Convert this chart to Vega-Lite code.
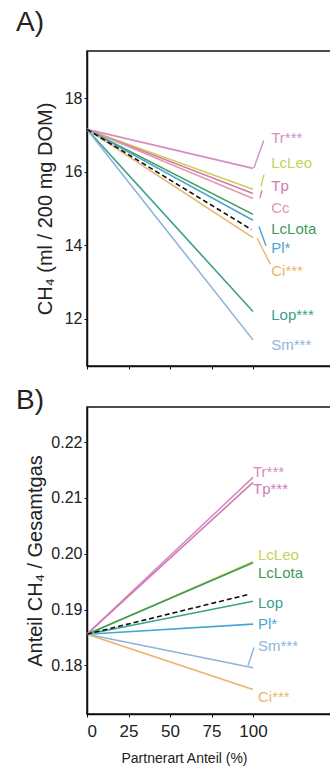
{
  "$schema": "https://vega.github.io/schema/vega-lite/v6.json",
  "padding": {"left": 15, "top": 8, "right": 0, "bottom": 0},
  "background": "white",
  "config": {
    "font": "Liberation Sans",
    "view": {"stroke": "#111", "strokeWidth": 1.5},
    "concat": {"spacing": 15},
    "axis": {"domainColor": "#111", "domainWidth": 1.5, "tickColor": "#111", "tickSize": 3, "labelFont": "Liberation Sans", "labelColor": "#222", "labelFontSize": 16, "titleFont": "Liberation Sans", "titleFontWeight": "normal", "titleColor": "#222", "grid": false},
    "title": {"font": "Liberation Sans", "fontSize": 28, "fontWeight": "normal", "color": "#222", "anchor": "start", "frame": "group"}
  },
  "datasets": {
    "linesA": [
      {"s": "Tr", "x": 0, "y": 17.15}, {"s": "Tr", "x": 100, "y": 16.09},
      {"s": "LcLeo", "x": 0, "y": 17.15}, {"s": "LcLeo", "x": 100, "y": 15.52},
      {"s": "Tp", "x": 0, "y": 17.15}, {"s": "Tp", "x": 100, "y": 15.41},
      {"s": "Cc", "x": 0, "y": 17.15}, {"s": "Cc", "x": 100, "y": 15.27},
      {"s": "LcLota", "x": 0, "y": 17.15}, {"s": "LcLota", "x": 100, "y": 14.84},
      {"s": "Pl", "x": 0, "y": 17.15}, {"s": "Pl", "x": 100, "y": 14.68},
      {"s": "Ci", "x": 0, "y": 17.15}, {"s": "Ci", "x": 100, "y": 14.21},
      {"s": "Lop", "x": 0, "y": 17.15}, {"s": "Lop", "x": 100, "y": 12.2},
      {"s": "Sm", "x": 0, "y": 17.15}, {"s": "Sm", "x": 100, "y": 11.43}
    ],
    "dashA": [{"x": 0, "y": 17.15}, {"x": 99, "y": 14.43}],
    "labelsA": [
      {"s": "Tr", "t": "Tr***", "x": 111, "y": 16.92},
      {"s": "LcLeo", "t": "LcLeo", "x": 111, "y": 16.25},
      {"s": "Tp", "t": "Tp", "x": 111, "y": 15.62},
      {"s": "Cc", "t": "Cc", "x": 111, "y": 15.02},
      {"s": "LcLota", "t": "LcLota", "x": 111, "y": 14.45},
      {"s": "Pl", "t": "Pl*", "x": 111, "y": 13.92},
      {"s": "Ci", "t": "Ci***", "x": 111, "y": 13.3},
      {"s": "Lop", "t": "Lop***", "x": 111, "y": 12.11},
      {"s": "Sm", "t": "Sm***", "x": 111, "y": 11.3}
    ],
    "leadersA": [
      {"s": "Tr", "x": 100.5, "y": 16.1, "x2": 106.5, "y2": 16.85},
      {"s": "LcLeo", "x": 104.8, "y": 15.6, "x2": 106.6, "y2": 15.92},
      {"s": "Tp", "x": 104.2, "y": 15.28, "x2": 105.4, "y2": 15.5},
      {"s": "Pl", "x": 103.6, "y": 14.51, "x2": 107.8, "y2": 13.99},
      {"s": "Ci", "x": 102.5, "y": 14.2, "x2": 110.5, "y2": 13.48}
    ],
    "linesB": [
      {"s": "Tr", "x": 0, "y": 0.1856}, {"s": "Tr", "x": 100, "y": 0.2137},
      {"s": "Tp", "x": 0, "y": 0.1856}, {"s": "Tp", "x": 100, "y": 0.2128},
      {"s": "LcLeo", "x": 0, "y": 0.1856}, {"s": "LcLeo", "x": 100, "y": 0.1986},
      {"s": "LcLota", "x": 0, "y": 0.1856}, {"s": "LcLota", "x": 100, "y": 0.1984},
      {"s": "Lop", "x": 0, "y": 0.1856}, {"s": "Lop", "x": 100, "y": 0.1915},
      {"s": "Pl", "x": 0, "y": 0.1856}, {"s": "Pl", "x": 100, "y": 0.1874},
      {"s": "Sm", "x": 0, "y": 0.1856}, {"s": "Sm", "x": 100, "y": 0.1796},
      {"s": "Ci", "x": 0, "y": 0.1856}, {"s": "Ci", "x": 100, "y": 0.1757}
    ],
    "dashB": [{"x": 0, "y": 0.1856}, {"x": 97, "y": 0.1927}],
    "labelsB": [
      {"s": "Tr", "t": "Tr***", "x": 100, "y": 0.2146},
      {"s": "Tp", "t": "Tp***", "x": 100, "y": 0.2116},
      {"s": "LcLeo", "t": "LcLeo", "x": 103, "y": 0.1998},
      {"s": "LcLota", "t": "LcLota", "x": 103, "y": 0.1966},
      {"s": "Lop", "t": "Lop", "x": 103, "y": 0.1911},
      {"s": "Pl", "t": "Pl*", "x": 103, "y": 0.1875},
      {"s": "Sm", "t": "Sm***", "x": 103, "y": 0.1834},
      {"s": "Ci", "t": "Ci***", "x": 103, "y": 0.1744}
    ],
    "leadersB": [
      {"s": "Sm", "x": 97, "y": 0.18, "x2": 100.6, "y2": 0.1832}
    ]
  },
  "vconcat": [
    {
      "title": {"text": "A)", "dx": -71, "offset": 14},
      "width": 249,
      "height": 315,
      "layer": [
        {
          "data": {"name": "linesA"},
          "mark": {"type": "line", "strokeWidth": 1.6, "clip": true},
          "encoding": {
            "x": {"field": "x", "type": "quantitative", "scale": {"domain": [0, 150], "nice": false}, "axis": {"values": [0, 25, 50, 75, 100], "labels": false, "title": null}},
            "y": {"field": "y", "type": "quantitative", "scale": {"domain": [10.72, 19.28], "nice": false, "zero": false}, "axis": {"values": [12, 14, 16, 18], "title": "CH₄ (ml / 200 mg DOM)", "titleFontSize": 20, "titlePadding": 9}},
            "detail": {"field": "s"},
            "color": {"field": "s", "type": "nominal", "legend": null, "scale": {"domain": ["Tr", "LcLeo", "Tp", "Cc", "LcLota", "Pl", "Ci", "Lop", "Sm"], "range": ["#d58fbf", "#c9d155", "#d27ab4", "#df9aa6", "#3f9a5c", "#49a6d2", "#e8b66a", "#3ba08c", "#8fb4da"]}}
          }
        },
        {
          "data": {"name": "dashA"},
          "mark": {"type": "line", "color": "#111", "strokeWidth": 1.6, "strokeDash": [5, 3]},
          "encoding": {"x": {"field": "x", "type": "quantitative"}, "y": {"field": "y", "type": "quantitative"}}
        },
        {
          "data": {"name": "leadersA"},
          "mark": {"type": "rule", "strokeWidth": 1.4},
          "encoding": {
            "x": {"field": "x", "type": "quantitative"}, "y": {"field": "y", "type": "quantitative"},
            "x2": {"field": "x2"}, "y2": {"field": "y2"},
            "color": {"field": "s", "type": "nominal", "legend": null}
          }
        },
        {
          "data": {"name": "labelsA"},
          "mark": {"type": "text", "align": "left", "baseline": "middle", "fontSize": 15, "font": "Liberation Sans"},
          "encoding": {
            "x": {"field": "x", "type": "quantitative"}, "y": {"field": "y", "type": "quantitative"},
            "text": {"field": "t"},
            "color": {"field": "s", "type": "nominal", "legend": null}
          }
        }
      ]
    },
    {
      "title": {"text": "B)", "dx": -71, "offset": -8},
      "width": 249,
      "height": 307,
      "layer": [
        {
          "data": {"name": "linesB"},
          "mark": {"type": "line", "strokeWidth": 1.6},
          "encoding": {
            "x": {"field": "x", "type": "quantitative", "scale": {"domain": [0, 150], "nice": false}, "axis": {"values": [0, 25, 50, 75, 100], "title": "Partnerart Anteil (%)", "titleFontSize": 14, "titleX": 97, "titleAnchor": null, "titleAlign": "center", "titlePadding": 12, "labelFontSize": 17, "labelPadding": 6}},
            "y": {"field": "y", "type": "quantitative", "scale": {"domain": [0.1713, 0.2263], "nice": false, "zero": false}, "axis": {"values": [0.18, 0.19, 0.2, 0.21, 0.22], "format": ".2f", "title": "Anteil CH₄ / Gesamtgas", "titleFontSize": 20, "titlePadding": 5}},
            "detail": {"field": "s"},
            "color": {"field": "s", "type": "nominal", "legend": null, "scale": {"domain": ["Tr", "Tp", "LcLeo", "LcLota", "Lop", "Pl", "Sm", "Ci"], "range": ["#d88cbf", "#d78bbf", "#c9d155", "#3f9a5c", "#3ba08c", "#49a6d2", "#8f8fb8", "#e8b66a"]}}
          }
        },
        {
          "data": {"name": "dashB"},
          "mark": {"type": "line", "color": "#111", "strokeWidth": 1.6, "strokeDash": [5, 3]},
          "encoding": {"x": {"field": "x", "type": "quantitative"}, "y": {"field": "y", "type": "quantitative"}}
        },
        {
          "data": {"name": "leadersB"},
          "mark": {"type": "rule", "strokeWidth": 1.4},
          "encoding": {
            "x": {"field": "x", "type": "quantitative"}, "y": {"field": "y", "type": "quantitative"},
            "x2": {"field": "x2"}, "y2": {"field": "y2"},
            "color": {"field": "s", "type": "nominal", "legend": null}
          }
        },
        {
          "data": {"name": "labelsB"},
          "mark": {"type": "text", "align": "left", "baseline": "middle", "fontSize": 15, "font": "Liberation Sans"},
          "encoding": {
            "x": {"field": "x", "type": "quantitative"}, "y": {"field": "y", "type": "quantitative"},
            "text": {"field": "t"},
            "color": {"field": "s", "type": "nominal", "legend": null}
          }
        }
      ]
    }
  ]
}
